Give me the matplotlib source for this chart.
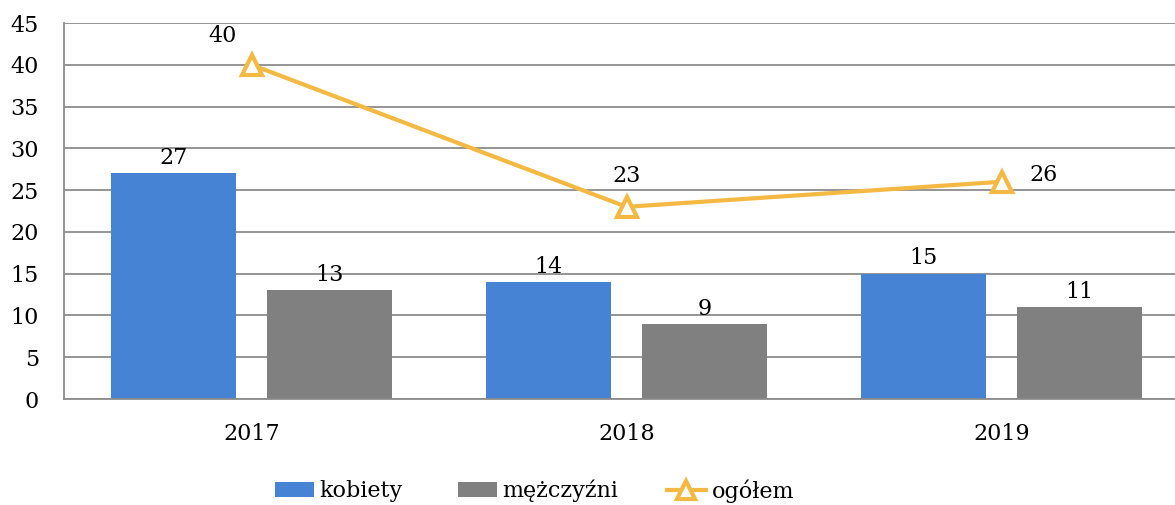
import matplotlib.pyplot as plt
import numpy as np

years = ["2017", "2018", "2019"]
kobiety = [27, 14, 15]
mezczyzni = [13, 9, 11]
ogolem = [40, 23, 26]

BLUE = "#4683D4"
GRAY = "#808080"
YELLOW = "#F4B942"

plt.rcParams["font.family"] = ["DejaVu Serif"]
plt.rcParams["font.size"] = 16

fig = plt.figure(figsize=(11.75, 5.05), dpi=100)
ax = fig.add_axes([64 / 1175, 1 - 399 / 505, 1125 / 1175, 376 / 505])

x = np.arange(len(years))
w = 0.333
off = 0.208
b1 = ax.bar(x - off, kobiety, w, color=BLUE, label="kobiety", zorder=2)
b2 = ax.bar(x + off, mezczyzni, w, color=GRAY, label="mężczyźni", zorder=2)
ln, = ax.plot(x, ogolem, color=YELLOW, lw=3, marker="^", markersize=15,
              markerfacecolor="white", markeredgecolor=YELLOW, markeredgewidth=3,
              label="ogółem", zorder=3)

for bars, vals in ((b1, kobiety), (b2, mezczyzni)):
    for r, v in zip(bars, vals):
        ax.annotate(str(v), (r.get_x() + r.get_width() / 2, v), xytext=(0, 3),
                    textcoords="offset points", ha="center", va="bottom")

line_offsets = [(-21, 21), (0, 22), (30, 5)]
for xi, v, (dx, dy) in zip(x, ogolem, line_offsets):
    ax.annotate(str(v), (xi, v), xytext=(dx, dy), textcoords="offset points",
                ha="center", va="center")

ax.set_xlim(-0.5, 2.5)
ax.set_ylim(0, 45)
ax.set_yticks(np.arange(0, 46, 5))
ax.set_xticks(x)
ax.set_xticklabels(years)
ax.tick_params(axis="x", length=0, pad=17)
ax.tick_params(axis="y", length=0, pad=18)
ax.grid(axis="y", color="#8c8c8c", lw=1.3, zorder=0)
ax.set_axisbelow(True)
for s in ("top", "right"):
    ax.spines[s].set_visible(False)
for s in ("left", "bottom"):
    ax.spines[s].set_color("#8c8c8c")
    ax.spines[s].set_linewidth(1.3)

# one legend per entry so each sits where the reference puts it
for handle, left in ((b1, 275), (b2, 458), (ln, 667)):
    fig.legend(handles=[handle], loc="center left",
               bbox_to_anchor=(left / 1175, 1 - 491 / 505),
               frameon=False, handlelength=1.75, handleheight=0.65,
               handletextpad=0.25, borderaxespad=0, borderpad=0,
               markerscale=0.85)

fig.savefig("out.png", dpi=100)
